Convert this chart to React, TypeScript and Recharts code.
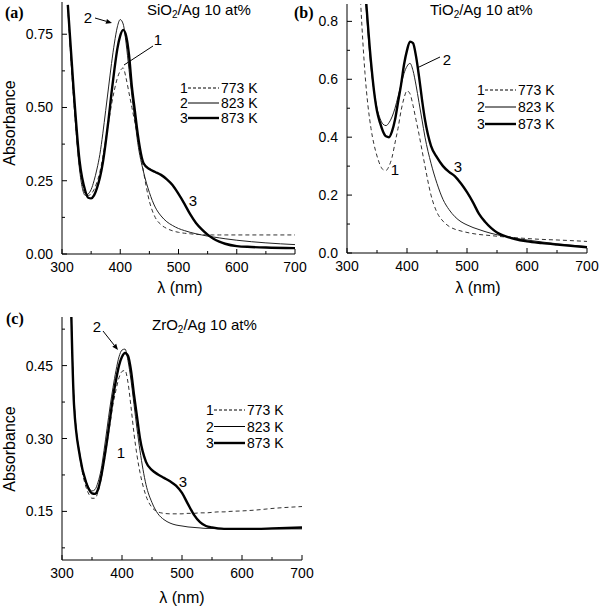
import React from "react";
import { LineChart, Line, XAxis, YAxis } from "recharts";

// wavelength grid (nm) shared by all curves
const wavelengths = [
  310, 320, 330, 340, 345, 350, 355, 360, 365, 370, 375, 380, 385, 390, 395, 400, 405, 410, 415, 420, 425, 430,
  440, 450, 460, 470, 480, 490, 500, 510, 520, 530, 540, 550, 560, 570, 580, 600, 625, 650, 700,
];

// (a) SiO2/Ag
const sio2_773 = [
  0.84, 0.53, 0.3, 0.205, 0.2, 0.205, 0.22, 0.245, 0.28, 0.33, 0.39, 0.45, 0.51, 0.56, 0.6, 0.625, 0.635, 0.6, 0.55, 0.5, 0.45, 0.4,
  0.28, 0.18, 0.125, 0.1, 0.087, 0.079, 0.074, 0.071, 0.069, 0.067, 0.066, 0.065, 0.065, 0.065, 0.065, 0.065, 0.065, 0.065, 0.065,
];
const sio2_823 = [
  0.84, 0.53, 0.29, 0.2, 0.205, 0.22, 0.25, 0.29, 0.34, 0.41, 0.49, 0.57, 0.65, 0.72, 0.775, 0.8, 0.785, 0.72, 0.63, 0.54, 0.46, 0.38,
  0.28, 0.21, 0.16, 0.13, 0.11, 0.097, 0.087, 0.08, 0.074, 0.069, 0.065, 0.061, 0.058, 0.055, 0.052, 0.047, 0.042, 0.038, 0.032,
];
const sio2_873 = [
  0.85, 0.56, 0.32, 0.215, 0.192, 0.19, 0.2, 0.225, 0.26, 0.31, 0.38, 0.46, 0.55, 0.63, 0.7, 0.745, 0.765, 0.745, 0.68, 0.57, 0.49, 0.41,
  0.31, 0.29, 0.28, 0.27, 0.255, 0.235, 0.205, 0.172, 0.136, 0.106, 0.084, 0.066, 0.052, 0.042, 0.035, 0.027, 0.024, 0.022, 0.02,
];

// (b) TiO2/Ag
const tio2_773 = [
  1.5, 0.98, 0.62, 0.43, 0.375, 0.335, 0.305, 0.288, 0.285, 0.3, 0.33, 0.38, 0.43, 0.49, 0.535, 0.56, 0.55, 0.51, 0.46, 0.41, 0.355, 0.3,
  0.2, 0.14, 0.11, 0.092, 0.082, 0.076, 0.071, 0.067, 0.064, 0.062, 0.06, 0.058, 0.056, 0.055, 0.053, 0.05, 0.047, 0.045, 0.04,
];
const tio2_823 = [
  1.6, 1.2, 0.9, 0.64, 0.56, 0.5, 0.465, 0.445, 0.44, 0.45, 0.47, 0.5, 0.54, 0.58, 0.62, 0.645, 0.655, 0.63, 0.58, 0.52, 0.46, 0.4,
  0.31, 0.24, 0.185, 0.15, 0.125, 0.108, 0.097, 0.088, 0.081, 0.074, 0.068, 0.063, 0.059, 0.055, 0.051, 0.045, 0.038, 0.032, 0.022,
];
const tio2_873 = [
  1.6, 1.2, 0.92, 0.66, 0.56, 0.49, 0.45, 0.42, 0.403, 0.4, 0.42, 0.46, 0.52, 0.58, 0.65, 0.7, 0.73, 0.725, 0.68, 0.61, 0.53, 0.46,
  0.37, 0.33, 0.3, 0.28, 0.265, 0.24, 0.21, 0.175, 0.135, 0.108, 0.087, 0.071, 0.061, 0.054, 0.048, 0.04, 0.034, 0.029, 0.02,
];

// (c) ZrO2/Ag
const zro2_773 = [
  0.88, 0.38, 0.26, 0.2, 0.185, 0.177, 0.177, 0.19, 0.215, 0.25, 0.29, 0.33, 0.37, 0.4, 0.425, 0.438, 0.44, 0.415, 0.365, 0.31, 0.265, 0.23,
  0.182, 0.158, 0.149, 0.146, 0.145, 0.145, 0.145, 0.146, 0.146, 0.147, 0.147, 0.148, 0.149, 0.149, 0.15, 0.151, 0.153, 0.156, 0.16,
];
const zro2_823 = [
  0.88, 0.38, 0.265, 0.212, 0.198, 0.192, 0.195, 0.21, 0.235, 0.275, 0.32, 0.365, 0.405, 0.44, 0.468, 0.482, 0.484, 0.46, 0.42, 0.37, 0.32, 0.275,
  0.205, 0.168, 0.145, 0.133, 0.126, 0.122, 0.12, 0.118, 0.117, 0.116, 0.115, 0.115, 0.114, 0.114, 0.114, 0.114, 0.114, 0.114, 0.114,
];
const zro2_873 = [
  0.9, 0.37, 0.262, 0.21, 0.195, 0.187, 0.186, 0.195, 0.22, 0.255, 0.295, 0.34, 0.385, 0.42, 0.45, 0.468, 0.476, 0.47, 0.44, 0.39, 0.345, 0.3,
  0.252, 0.235, 0.226, 0.219, 0.212, 0.203, 0.188, 0.165, 0.143, 0.128, 0.12, 0.117, 0.115, 0.114, 0.114, 0.114, 0.114, 0.115, 0.117,
];

const legendTemps = ["773 K", "823 K", "873 K"];
const xTicks = [300, 350, 400, 450, 500, 550, 600, 650, 700];
const xMajor = [300, 400, 500, 600, 700];

const FONT = '"Liberation Sans", Arial, sans-serif';
const SERIF = '"Liberation Serif", "Times New Roman", serif';

const XTick = (props: any) => {
  const { x, y, payload } = props;
  const major = xMajor.includes(payload.value);
  return (
    <g>
      <line x1={x} x2={x} y1={y} y2={y - (major ? 5 : 3)} stroke="#000" strokeWidth={1} />
      {major && (
        <text x={x} y={y + 18} textAnchor="middle" fontSize={14} fontFamily={FONT} fill="#000">
          {payload.value}
        </text>
      )}
    </g>
  );
};

const makeYTick = (majors: number[], digits: number) => (props: any) => {
  const { x, y, payload } = props;
  const major = majors.some((m) => Math.abs(m - payload.value) < 1e-6);
  return (
    <g>
      <line x1={x} x2={x + (major ? 5 : 3)} y1={y} y2={y} stroke="#000" strokeWidth={1} />
      {major && (
        <text x={x - 9} y={y + 5} textAnchor="end" fontSize={14} fontFamily={FONT} fill="#000">
          {payload.value.toFixed(digits)}
        </text>
      )}
    </g>
  );
};

type PanelProps = {
  left: number;
  top: number;
  width: number;
  height: number;
  margin: { top: number; right: number; bottom: number; left: number };
  yWidth: number;
  xHeight: number;
  domain: [number, number];
  yTicks: number[];
  yMajor: number[];
  digits: number;
  s773: number[];
  s823: number[];
  s873: number[];
};

const Panel = (p: PanelProps) => {
  const data = wavelengths.map((wl, i) => ({ wl, k773: p.s773[i], k823: p.s823[i], k873: p.s873[i] }));
  return (
    <div style={{ position: "absolute", left: p.left, top: p.top }}>
      <LineChart width={p.width} height={p.height} data={data} margin={p.margin}>
        <XAxis
          dataKey="wl"
          type="number"
          domain={[300, 700]}
          ticks={xTicks}
          interval={0}
          height={p.xHeight}
          axisLine={{ stroke: "#000", strokeWidth: 1 }}
          tickLine={false}
          tickSize={0}
          tickMargin={0}
          tick={XTick}
        />
        <YAxis
          type="number"
          domain={p.domain}
          allowDataOverflow
          ticks={p.yTicks}
          interval={0}
          width={p.yWidth}
          axisLine={{ stroke: "#000", strokeWidth: 1 }}
          tickLine={false}
          tickSize={0}
          tickMargin={0}
          tick={makeYTick(p.yMajor, p.digits)}
        />
        <Line type="monotone" dataKey="k773" stroke="#333" strokeWidth={1} strokeDasharray="4 3" dot={false} isAnimationActive={false} />
        <Line type="monotone" dataKey="k823" stroke="#222" strokeWidth={1} dot={false} isAnimationActive={false} />
        <Line type="monotone" dataKey="k873" stroke="#000" strokeWidth={2.4} dot={false} isAnimationActive={false} />
      </LineChart>
    </div>
  );
};

const Arrow = ({ x1, y1, x2, y2, head }: { x1: number; y1: number; x2: number; y2: number; head?: boolean }) => {
  const dx = x2 - x1;
  const dy = y2 - y1;
  const len = Math.sqrt(dx * dx + dy * dy);
  const ux = dx / len;
  const uy = dy / len;
  const bx = x2 - ux * 6;
  const by = y2 - uy * 6;
  return (
    <g>
      <line x1={x1} y1={y1} x2={head ? bx : x2} y2={head ? by : y2} stroke="#000" strokeWidth={1} />
      {head && (
        <polygon
          points={`${x2},${y2} ${bx - uy * 2.5},${by + ux * 2.5} ${bx + uy * 2.5},${by - ux * 2.5}`}
          fill="#000"
        />
      )}
    </g>
  );
};

const LegendBlock = ({ x, y, gap, lineLen }: { x: number; y: number; gap: number; lineLen: number }) => (
  <g fontFamily={FONT} fontSize={14} fill="#000">
    {legendTemps.map((t, i) => {
      const cy = y + i * gap;
      return (
        <g key={t}>
          <text x={x} y={cy + 5}>{i + 1}</text>
          <line
            x1={x + 8}
            x2={x + 8 + lineLen}
            y1={cy}
            y2={cy}
            stroke="#000"
            strokeWidth={i === 2 ? 2.4 : 1}
            strokeDasharray={i === 0 ? "3 2" : undefined}
          />
          <text x={x + 10 + lineLen} y={cy + 5}>{t}</text>
        </g>
      );
    })}
  </g>
);

const Num = ({ x, y, t }: { x: number; y: number; t: string }) => (
  <text x={x} y={y + 5} textAnchor="middle" fontSize={15} fontFamily={FONT} fill="#000">
    {t}
  </text>
);

const textStyle: React.CSSProperties = {
  position: "absolute",
  fontFamily: FONT,
  fontSize: 15,
  lineHeight: "16px",
  whiteSpace: "nowrap",
  color: "#000",
};

const Title = ({ left, cy, name }: { left: number; cy: number; name: string }) => (
  <div style={{ ...textStyle, left, top: cy - 8 }}>
    {name}O<sub style={{ fontSize: 10, verticalAlign: "-3px", lineHeight: 0 }}>2</sub>/Ag 10 at%
  </div>
);

const PanelTag = ({ left, cy, t }: { left: number; cy: number; t: string }) => (
  <div style={{ ...textStyle, fontFamily: SERIF, fontWeight: "bold", fontSize: 16, left, top: cy - 8 }}>{t}</div>
);

const XLabel = ({ cx, cy }: { cx: number; cy: number }) => (
  <div style={{ ...textStyle, fontSize: 16, left: cx, top: cy - 8, transform: "translateX(-50%)" }}>λ (nm)</div>
);

const YLabel = ({ cx, cy }: { cx: number; cy: number }) => (
  <div
    style={{
      ...textStyle,
      fontSize: 16,
      left: cx,
      top: cy,
      transform: "translate(-50%, -50%) rotate(-90deg)",
    }}
  >
    Absorbance
  </div>
);

export default function App() {
  return (
    <div style={{ position: "absolute", left: 0, top: 0, width: 600, height: 607, background: "#fff", overflow: "hidden" }}>
      <Panel
        left={0}
        top={0}
        width={320}
        height={300}
        margin={{ top: 2, right: 25, bottom: 0, left: 0 }}
        yWidth={62}
        xHeight={46}
        domain={[0, 0.86]}
        yTicks={[0, 0.125, 0.25, 0.375, 0.5, 0.625, 0.75]}
        yMajor={[0, 0.25, 0.5, 0.75]}
        digits={2}
        s773={sio2_773}
        s823={sio2_823}
        s873={sio2_873}
      />
      <Panel
        left={300}
        top={0}
        width={300}
        height={300}
        margin={{ top: 4, right: 13, bottom: 0, left: 0 }}
        yWidth={47}
        xHeight={47}
        domain={[0, 0.86]}
        yTicks={[0, 0.1, 0.2, 0.3, 0.4, 0.5, 0.6, 0.7, 0.8]}
        yMajor={[0, 0.2, 0.4, 0.6, 0.8]}
        digits={1}
        s773={tio2_773}
        s823={tio2_823}
        s873={tio2_873}
      />
      <Panel
        left={0}
        top={300}
        width={330}
        height={307}
        margin={{ top: 17, right: 28, bottom: 0, left: 0 }}
        yWidth={62}
        xHeight={47}
        domain={[0.05, 0.55]}
        yTicks={[0.075, 0.15, 0.225, 0.3, 0.375, 0.45, 0.525]}
        yMajor={[0.15, 0.3, 0.45]}
        digits={2}
        s773={zro2_773}
        s823={zro2_823}
        s873={zro2_873}
      />

      <svg width={600} height={607} style={{ position: "absolute", left: 0, top: 0, pointerEvents: "none" }}>
        {/* (a) */}
        <Num x={88} y={18} t="2" />
        <Arrow x1={95} y1={18} x2={112} y2={23} head />
        <Num x={158} y={40} t="1" />
        <Arrow x1={153} y1={46} x2={124} y2={65} />
        <Num x={193} y={201} t="3" />
        <LegendBlock x={180} y={88} gap={15} lineLen={31} />
        {/* (b) */}
        <Num x={447} y={60} t="2" />
        <Arrow x1={440} y1={57} x2={417} y2={68} />
        <Num x={395} y={170} t="1" />
        <Num x={458} y={167} t="3" />
        <LegendBlock x={477} y={90} gap={17} lineLen={31} />
        {/* (c) */}
        <Num x={97} y={327} t="2" />
        <Arrow x1={103} y1={331} x2={118} y2={350} head />
        <Num x={121} y={453} t="1" />
        <Num x={183} y={482} t="3" />
        <LegendBlock x={206} y={410} gap={16.5} lineLen={31} />
      </svg>

      <PanelTag left={5} cy={13} t="(a)" />
      <PanelTag left={294} cy={13} t="(b)" />
      <PanelTag left={6} cy={319} t="(c)" />
      <Title left={147} cy={10} name="Si" />
      <Title left={430} cy={10} name="Ti" />
      <Title left={152} cy={325} name="Zr" />
      <XLabel cx={180} cy={288} />
      <XLabel cx={478} cy={288} />
      <XLabel cx={182} cy={598} />
      <YLabel cx={10} cy={123} />
      <YLabel cx={10} cy={449} />
    </div>
  );
}
